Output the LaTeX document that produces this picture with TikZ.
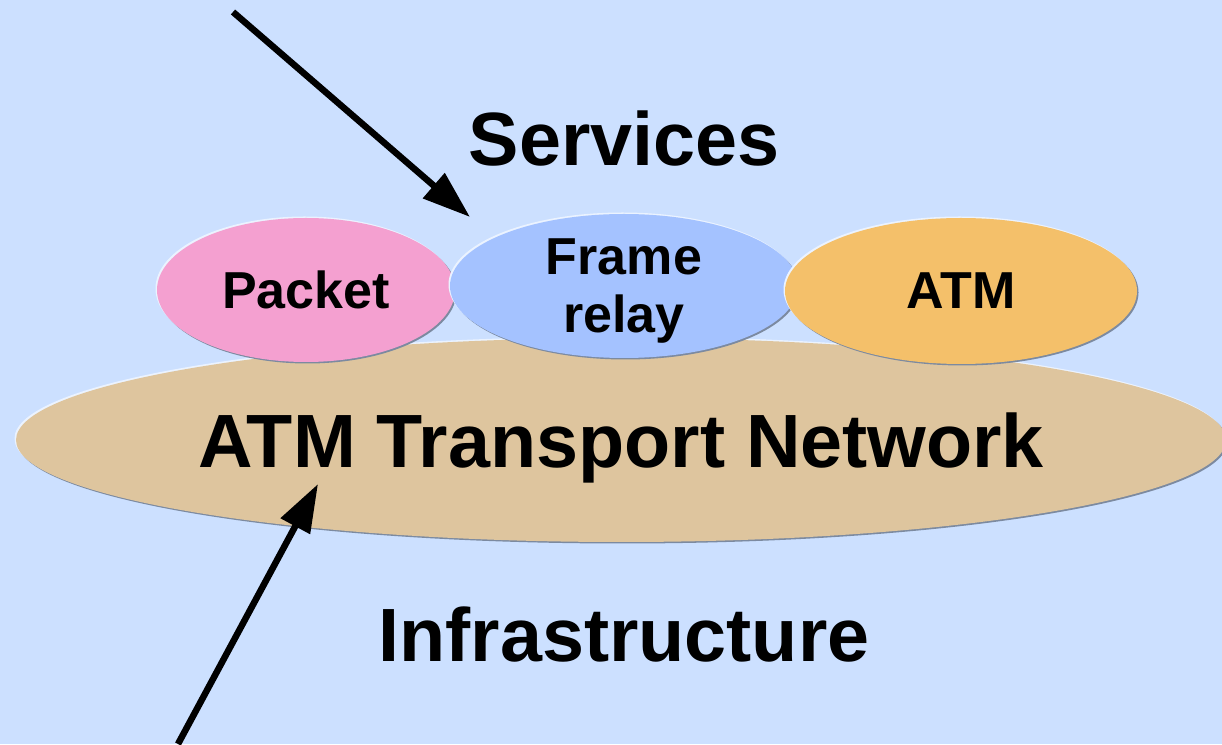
\documentclass[tikz,border=0pt]{standalone}
\usepackage{fontspec}
\setmainfont{Liberation Sans}
\usetikzlibrary{shapes.geometric,arrows.meta}
\definecolor{bgblue}{HTML}{CCE0FF}
\definecolor{packetcol}{HTML}{F4A0D0}
\definecolor{framecol}{HTML}{A4C2FF}
\definecolor{atmcol}{HTML}{F4C06A}
\definecolor{netcol}{HTML}{DEC59E}
\definecolor{shadowgrey}{HTML}{7C8AA0}
\begin{document}
\begin{tikzpicture}[x=1pt,y=1pt]
	\tikzstyle{every node}=[font=\bfseries]
	\tikzstyle{blob}=[ellipse,inner sep=0pt,text depth=0pt,align=center,
		preaction={fill=shadowgrey,transform canvas={shift={(1.5pt,-1.5pt)}}},
		preaction={fill=white!60!bgblue,transform canvas={shift={(-1.5pt,1.5pt)}}}]
	\tikzstyle{big}=[font=\fontsize{75.5}{80}\selectfont\bfseries]
	\tikzstyle{small}=[font=\fontsize{52}{58}\selectfont\bfseries]
	\tikzstyle{pointer}=[line width=6.5pt,-{Triangle[length=48pt,width=32pt]}]
	\useasboundingbox (0,0) rectangle (1222,744);
	\clip (0,0) rectangle (1222,744);
	\fill[bgblue] (0,0) rectangle (1222,744);
	% transport layer and the services on top of it
	\node[blob,big,fill=netcol,minimum width=1210pt,minimum height=204pt] (net) at (621,304) {ATM Transport Network};
	\node[blob,small,fill=packetcol,minimum width=298pt,minimum height=144pt] (packet) at (306,454) {Packet};
	\node[blob,small,fill=framecol,minimum width=348pt,minimum height=144pt] (frame) at (624,458) {Frame\\relay};
	\node[blob,small,fill=atmcol,minimum width=352pt,minimum height=146pt] (atm) at (961,453) {ATM};
	\node[big] (services) at (624,605) {Services};
	\node[big] (infra) at (624,109) {Infrastructure};
	% pointers
	\coordinate (srvtail) at (233,732);
	\coordinate (srvtip) at (470,527);
	\coordinate (infratail) at (178,0);
	\coordinate (infratip) at (318,260);
	\draw[pointer] (srvtail) -- (srvtip);
	\draw[pointer] (infratail) -- (infratip);
\end{tikzpicture}
\end{document}
